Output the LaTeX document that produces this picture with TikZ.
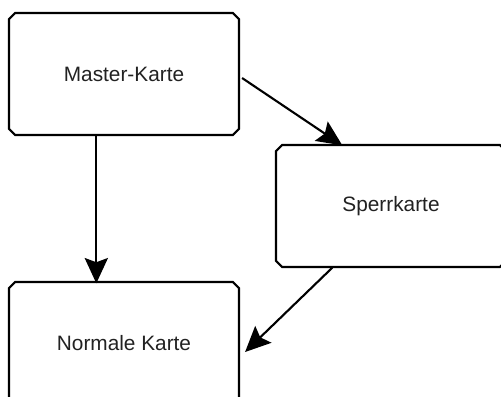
\documentclass[tikz,border=0pt]{standalone}
\usepackage{fontspec}
\setmainfont{Liberation Sans}
\usetikzlibrary{arrows.meta, positioning, shapes.misc, calc}
\definecolor{CardText}{RGB}{34, 34, 34}
\begin{document}
\begin{tikzpicture}[x=0.025cm, y=-0.025cm,
  card/.style={chamfered rectangle, chamfered rectangle xsep=2.2pt, chamfered rectangle ysep=2.2pt, draw=black, line width=1.5pt, fill=white, text=CardText, font=\fontsize{14.8}{17}\selectfont, minimum width=5.75cm, minimum height=3.05cm, inner sep=0pt},
  arr/.style={-{Stealth[length=18pt, width=16.5pt, inset=3pt]}, black, line width=1.5pt}]
\useasboundingbox (0,0) rectangle (501,396);
\clip (0,0) rectangle (501,396);
\node[card] (master) at (124, 74) {Master-Karte};
\node[card] (sperr) at (391, 206) {Sperrkarte};
\node[card] (normal) at (124, 343) {Normale Karte};
\draw[arr] ($(master.east)+(2,4)$) -- ($(sperr.north west)+(64,-2)$);
\draw[arr] ($(master.south west)+(85,3)$) -- ($(normal.north west)+(85,-1)$);
\draw[arr] ($(sperr.south west)+(54,3)$) -- ($(normal.east)+(5,9)$);
\end{tikzpicture}
\end{document}
